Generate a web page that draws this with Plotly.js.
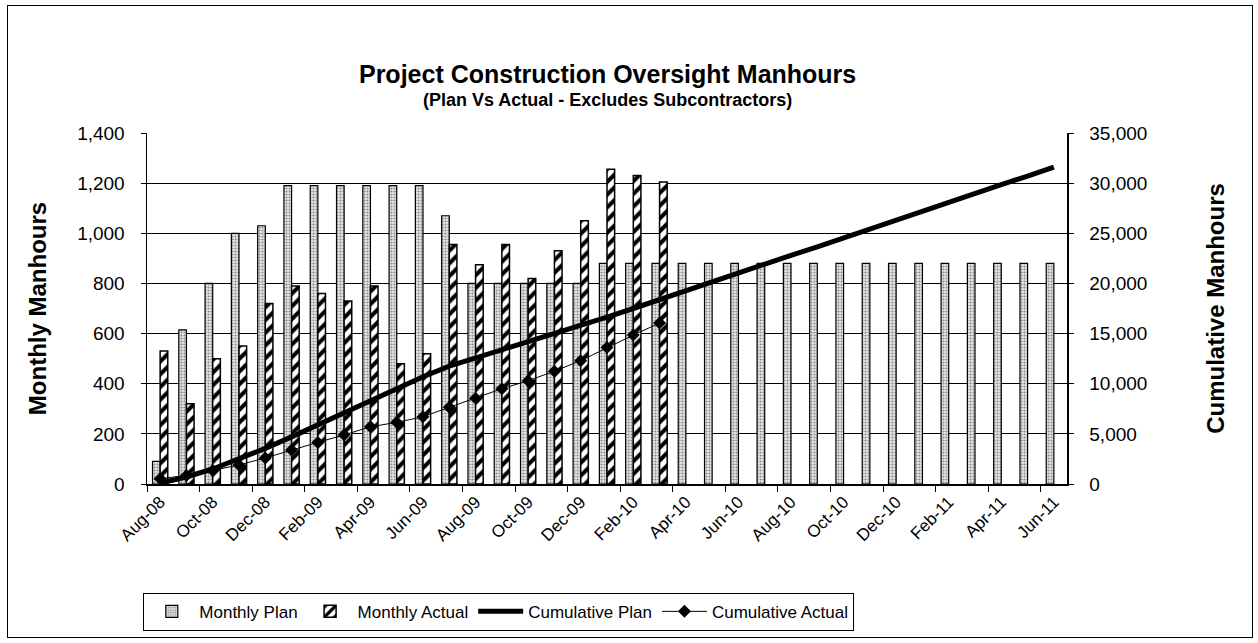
<!DOCTYPE html>
<html>
<head>
<meta charset="utf-8">
<script src="https://cdn.plot.ly/plotly-3.0.1.min.js"></script>
<style>
    body { margin: 0; background: #fff; }
    #plotDiv { position: absolute; left: 0; top: 0; width: 1258px; height: 643px; }
    #frame { position: absolute; left: 7px; top: 5px; width: 1244px; height: 631px; border: 1px solid #000; pointer-events: none; }
</style>
</head>
<body>
<div id="plotDiv"></div>
<div id="frame"></div>
<script>
var months = ['Aug-08', 'Sep-08', 'Oct-08', 'Nov-08', 'Dec-08', 'Jan-09', 'Feb-09', 'Mar-09', 'Apr-09', 'May-09',
    'Jun-09', 'Jul-09', 'Aug-09', 'Sep-09', 'Oct-09', 'Nov-09', 'Dec-09', 'Jan-10', 'Feb-10', 'Mar-10',
    'Apr-10', 'May-10', 'Jun-10', 'Jul-10', 'Aug-10', 'Sep-10', 'Oct-10', 'Nov-10', 'Dec-10', 'Jan-11',
    'Feb-11', 'Mar-11', 'Apr-11', 'May-11', 'Jun-11'];

// monthly manhours (left axis)
var monthlyPlan = [90, 615, 800, 1000, 1030, 1190, 1190, 1190, 1190, 1190,
    1190, 1070, 800, 800, 800, 800, 800, 880, 880, 880,
    880, 880, 880, 880, 880, 880, 880, 880, 880, 880,
    880, 880, 880, 880, 880];
var monthlyActual = [530, 320, 500, 550, 720, 790, 760, 730, 790, 480,
    520, 955, 875, 955, 820, 930, 1050, 1255, 1230, 1205];

// cumulative manhours (right axis)
var cumulativePlan = [90, 700, 1500, 2500, 3550, 4700, 5900, 7100, 8300, 9500,
    10700, 11750, 12550, 13350, 14150, 14950, 15750, 16650, 17500, 18400,
    19300, 20150, 21050, 21900, 22800, 23650, 24550, 25450, 26300, 27200,
    28050, 28950, 29850, 30700, 31600];
var cumulativeActual = [530, 850, 1350, 1900, 2600, 3400, 4150, 4900, 5700, 6150,
    6700, 7650, 8550, 9500, 10300, 11250, 12300, 13600, 14850, 16050];

var fontFamily = '"Liberation Sans", Arial, sans-serif';

window.onload = function () {
    initializePlotDiv();
};

function initializePlotDiv() {
    var plotDiv = document.getElementById('plotDiv');

    var trace_plan = {
        x: months,
        y: monthlyPlan,
        type: 'bar',
        name: 'Monthly Plan',
        marker: {
            color: '#dcdcdc',
            line: {color: '#000', width: 1.2},
            pattern: {shape: '.', fgcolor: '#8a8a8a', bgcolor: '#e8e8e8', size: 3, solidity: 0.4}
        }
    };

    var trace_actual = {
        x: months.slice(0, monthlyActual.length),
        y: monthlyActual,
        type: 'bar',
        name: 'Monthly Actual',
        marker: {
            color: '#fff',
            line: {color: '#000', width: 1.5},
            pattern: {shape: '/', fgcolor: '#000', bgcolor: '#fff', size: 9, solidity: 0.45}
        }
    };

    var trace_cum_plan = {
        x: months,
        y: cumulativePlan,
        yaxis: 'y2',
        type: 'scatter',
        mode: 'lines',
        name: 'Cumulative Plan',
        line: {color: '#000', width: 5}
    };

    var trace_cum_actual = {
        x: months.slice(0, cumulativeActual.length),
        y: cumulativeActual,
        yaxis: 'y2',
        type: 'scatter',
        mode: 'lines+markers',
        name: 'Cumulative Actual',
        line: {color: '#000', width: 1},
        marker: {symbol: 'diamond', size: 10, color: '#000'}
    };

    var plotData = [trace_plan, trace_actual, trace_cum_plan, trace_cum_actual];

    var layoutOpt = {
        width: 1258,
        height: 643,
        paper_bgcolor: '#fff',
        plot_bgcolor: '#fff',
        font: {family: fontFamily, color: '#000', size: 19},
        title: {
            // base size 18 keeps the two lines close together
            text: '<span style="font-size:25px"><b>Project Construction Oversight Manhours</b></span><br><b>(Plan Vs Actual - Excludes Subcontractors)</b>',
            font: {size: 18, color: '#000'},
            x: 0.483,
            xanchor: 'center',
            y: 0.871,
            yanchor: 'top'
        },
        barmode: 'group',
        bargap: 0.42,
        bargroupgap: 0,
        margin: {l: 147, r: 191, t: 133, b: 159},
        xaxis: {
            type: 'category',
            range: [-0.5, months.length - 0.5],
            tickmode: 'linear',
            dtick: 2,
            tickson: 'boundaries',
            ticks: 'outside',
            ticklen: 6,
            tickcolor: '#000',
            tickangle: -45,
            tickfont: {size: 17},
            showgrid: false,
            showline: true,
            linecolor: '#000',
            linewidth: 1.5
        },
        yaxis: {
            range: [0, 1400],
            dtick: 200,
            tickformat: ',d',
            ticks: 'outside',
            ticklen: 5,
            tickcolor: '#000',
            ticklabelstandoff: 12,
            showline: true,
            linecolor: '#000',
            linewidth: 1.5,
            gridcolor: '#000',
            gridwidth: 1,
            zeroline: false,
            title: {text: '<b>Monthly Manhours</b>', font: {size: 24}, standoff: 24}
        },
        yaxis2: {
            overlaying: 'y',
            side: 'right',
            range: [0, 35000],
            dtick: 5000,
            tickformat: ',d',
            ticks: 'outside',
            ticklen: 5,
            tickcolor: '#000',
            ticklabelstandoff: 12,
            showline: true,
            linecolor: '#000',
            linewidth: 1.5,
            showgrid: false,
            zeroline: false,
            title: {text: '<b>Cumulative Manhours</b>', font: {size: 24}, standoff: 61}
        },
        showlegend: true,
        legend: {
            orientation: 'h',
            x: -0.004,
            xanchor: 'left',
            y: -0.31,
            yanchor: 'top',
            bgcolor: '#fff',
            bordercolor: '#000',
            borderwidth: 1,
            font: {size: 17},
            itemwidth: 45,
            traceorder: 'normal'
        }
    };

    Plotly.newPlot(plotDiv, plotData, layoutOpt, {displayModeBar: false, staticPlot: true});
}
</script>
</body>
</html>
